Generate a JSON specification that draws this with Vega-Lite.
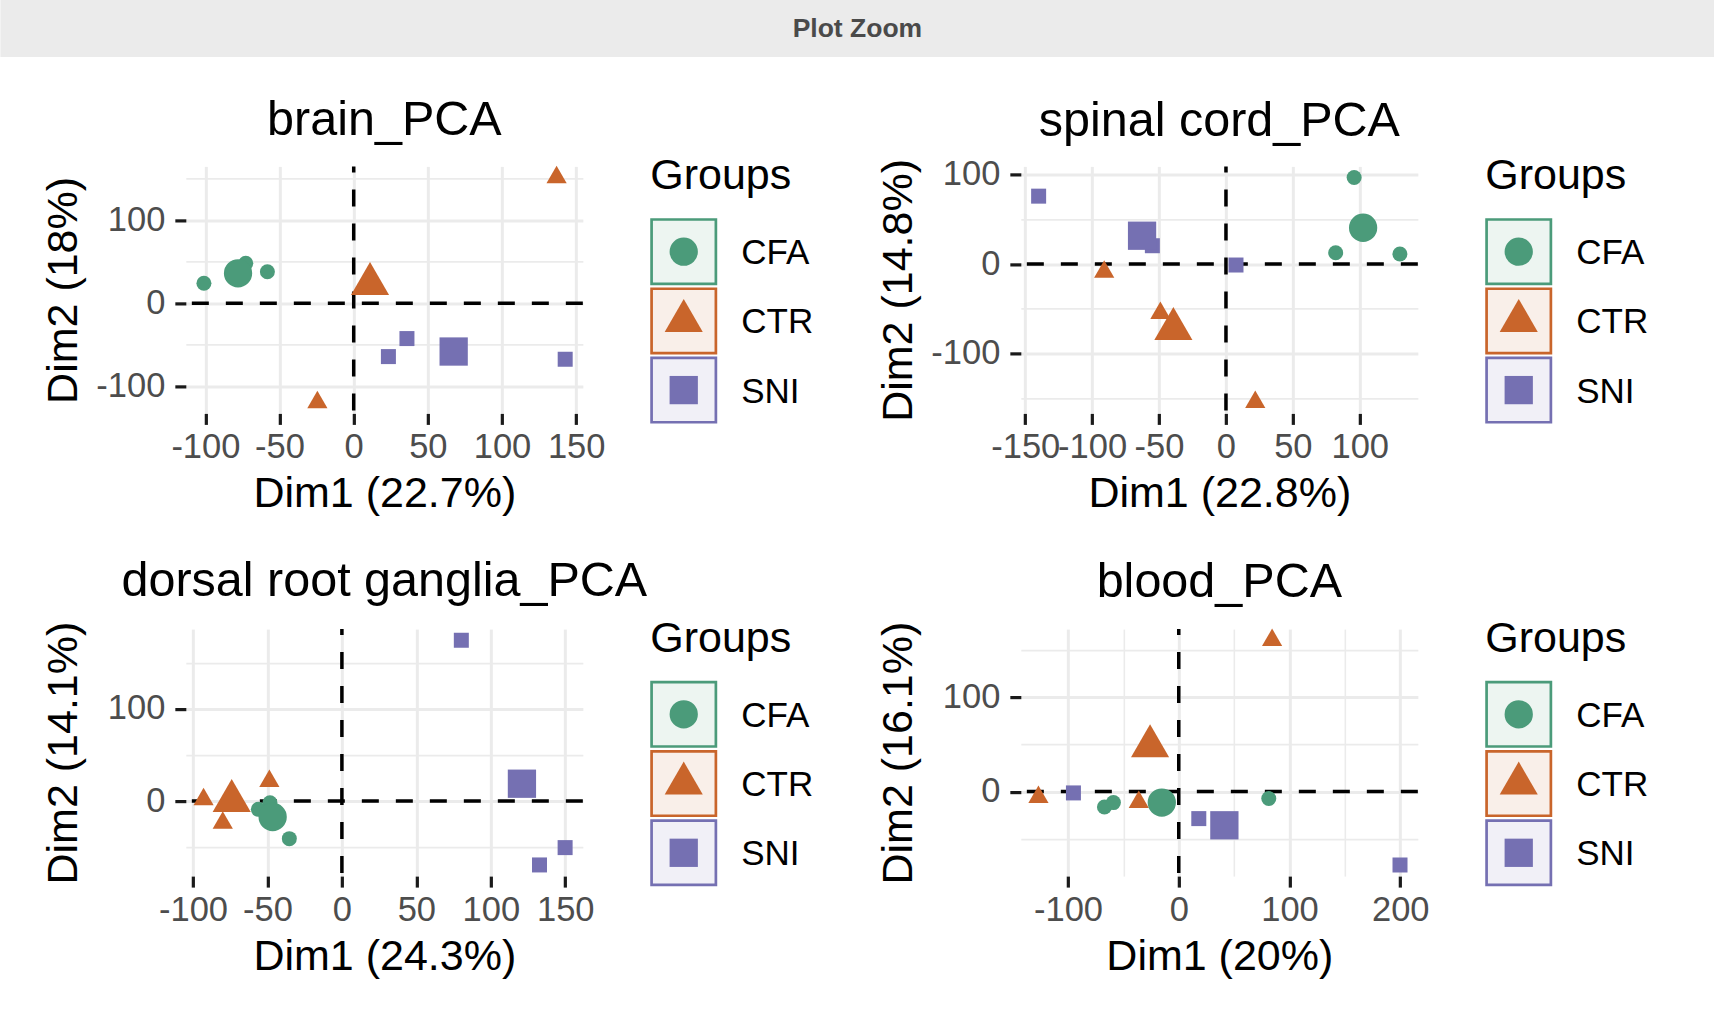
{
  "$schema": "https://vega.github.io/schema/vega-lite/v6.json",
  "background": "white",
  "padding": 0,
  "autosize": {"type": "pad"},
  "config": {
    "font": "Liberation Sans",
    "view": {"stroke": null},
    "title": {"font": "Liberation Sans", "fontSize": 48.5, "fontWeight": "normal", "color": "black", "anchor": "middle", "frame": "group", "baseline": "alphabetic"},
    "axis": {"domain": false, "grid": true, "gridColor": "#EBEBEB", "tickColor": "#1A1A1A", "tickWidth": 3.2, "tickSize": 11, "labelFont": "Liberation Sans", "labelFontSize": 34.5, "labelColor": "#4D4D4D", "labelOverlap": false, "labelFlush": false, "titleFont": "Liberation Sans", "titleFontSize": 43, "titleFontWeight": "normal", "titleColor": "black", "titleBaseline": "alphabetic"},
    "axisX": {"labelPadding": 6.5, "titlePadding": 42.5},
    "axisY": {"labelPadding": 10, "titlePadding": 19, "minExtent": 90}
  },
  "datasets": {
    "window": [{"label": "Plot Zoom"}],
    "refs": [{"ref": 0}],
    "pca": [
      {"panel": "brain", "group": "CFA", "kind": "ind", "dim1": -101, "dim2": 24},
      {"panel": "brain", "group": "CFA", "kind": "ind", "dim1": -72.8, "dim2": 48},
      {"panel": "brain", "group": "CFA", "kind": "ind", "dim1": -58.2, "dim2": 37.8},
      {"panel": "brain", "group": "CTR", "kind": "ind", "dim1": 136.8, "dim2": 151.3},
      {"panel": "brain", "group": "CTR", "kind": "ind", "dim1": -24.5, "dim2": -119.4},
      {"panel": "brain", "group": "CTR", "kind": "ind", "dim1": -79.3, "dim2": 37.1},
      {"panel": "brain", "group": "SNI", "kind": "ind", "dim1": 23.4, "dim2": -64.3},
      {"panel": "brain", "group": "SNI", "kind": "ind", "dim1": 35.9, "dim2": -42.6},
      {"panel": "brain", "group": "SNI", "kind": "ind", "dim1": 142.6, "dim2": -67.5},
      {"panel": "brain", "group": "CFA", "kind": "mean", "dim1": -78, "dim2": 36},
      {"panel": "brain", "group": "CTR", "kind": "mean", "dim1": 11, "dim2": 23},
      {"panel": "brain", "group": "SNI", "kind": "mean", "dim1": 67.4, "dim2": -58.2},
      {"panel": "spinal", "group": "CFA", "kind": "ind", "dim1": 95.8, "dim2": 96.8},
      {"panel": "spinal", "group": "CFA", "kind": "ind", "dim1": 82, "dim2": 12.7},
      {"panel": "spinal", "group": "CFA", "kind": "ind", "dim1": 130, "dim2": 11.2},
      {"panel": "spinal", "group": "CTR", "kind": "ind", "dim1": -91, "dim2": -8.7},
      {"panel": "spinal", "group": "CTR", "kind": "ind", "dim1": -49, "dim2": -55},
      {"panel": "spinal", "group": "CTR", "kind": "ind", "dim1": 21.9, "dim2": -154.7},
      {"panel": "spinal", "group": "SNI", "kind": "ind", "dim1": -140, "dim2": 76},
      {"panel": "spinal", "group": "SNI", "kind": "ind", "dim1": -55, "dim2": 20.5},
      {"panel": "spinal", "group": "SNI", "kind": "ind", "dim1": 7.5, "dim2": -1.1},
      {"panel": "spinal", "group": "CFA", "kind": "mean", "dim1": 102.5, "dim2": 40.6},
      {"panel": "spinal", "group": "CTR", "kind": "mean", "dim1": -39.3, "dim2": -72.7},
      {"panel": "spinal", "group": "SNI", "kind": "mean", "dim1": -62.7, "dim2": 31.7},
      {"panel": "drg", "group": "CFA", "kind": "ind", "dim1": -48.3, "dim2": -1.8},
      {"panel": "drg", "group": "CFA", "kind": "ind", "dim1": -56.1, "dim2": -9},
      {"panel": "drg", "group": "CFA", "kind": "ind", "dim1": -35.3, "dim2": -40.8},
      {"panel": "drg", "group": "CTR", "kind": "ind", "dim1": -92.9, "dim2": 1.9},
      {"panel": "drg", "group": "CTR", "kind": "ind", "dim1": -48.7, "dim2": 21.5},
      {"panel": "drg", "group": "CTR", "kind": "ind", "dim1": -80, "dim2": -23.6},
      {"panel": "drg", "group": "SNI", "kind": "ind", "dim1": 80.2, "dim2": 174.4},
      {"panel": "drg", "group": "SNI", "kind": "ind", "dim1": 149.9, "dim2": -50.5},
      {"panel": "drg", "group": "SNI", "kind": "ind", "dim1": 132.7, "dim2": -69.3},
      {"panel": "drg", "group": "CFA", "kind": "mean", "dim1": -46.5, "dim2": -17.3},
      {"panel": "drg", "group": "CTR", "kind": "mean", "dim1": -74, "dim2": 0.1},
      {"panel": "drg", "group": "SNI", "kind": "mean", "dim1": 120.9, "dim2": 18.8},
      {"panel": "blood", "group": "CFA", "kind": "ind", "dim1": -67.1, "dim2": -16.3},
      {"panel": "blood", "group": "CFA", "kind": "ind", "dim1": -59, "dim2": -11.7},
      {"panel": "blood", "group": "CFA", "kind": "ind", "dim1": 81.3, "dim2": -7.4},
      {"panel": "blood", "group": "CTR", "kind": "ind", "dim1": 84.3, "dim2": 160.9},
      {"panel": "blood", "group": "CTR", "kind": "ind", "dim1": -126.7, "dim2": -5.8},
      {"panel": "blood", "group": "CTR", "kind": "ind", "dim1": -36.1, "dim2": -11.3},
      {"panel": "blood", "group": "SNI", "kind": "ind", "dim1": -95.1, "dim2": -1.4},
      {"panel": "blood", "group": "SNI", "kind": "ind", "dim1": 18.1, "dim2": -28.7},
      {"panel": "blood", "group": "SNI", "kind": "ind", "dim1": 199.8, "dim2": -78},
      {"panel": "blood", "group": "CFA", "kind": "mean", "dim1": -15.3, "dim2": -11.7},
      {"panel": "blood", "group": "CTR", "kind": "mean", "dim1": -25.9, "dim2": 48.2},
      {"panel": "blood", "group": "SNI", "kind": "mean", "dim1": 41.2, "dim2": -35.8}
    ]
  },
  "spacing": 39.4,
  "center": true,
  "vconcat": [
    {
      "width": 1833.2, "height": 57,
      "view": {"fill": "#EBEBEB", "stroke": null},
      "data": {"name": "window"},
      "mark": {"type": "text", "fontSize": 26.5, "fontWeight": "bold", "color": "#4A4A4A", "dx": -59.6},
      "encoding": {"text": {"field": "label", "type": "nominal"}}
    },
    {
      "columns": 2,
      "spacing": {"row": 40.7, "column": 63},
      "concat": [
        {
          "bounds": "flush", "spacing": 67.4,
          "hconcat": [
            {
              "width": 397, "height": 247,
              "title": {"text": "brain_PCA", "offset": 14.7},
              "layer": [
                {"data": {"name": "refs"}, "mark": {"type": "rule", "color": "black", "strokeWidth": 3.5, "strokeDash": [17, 17]}, "encoding": {"y": {"field": "ref", "type": "quantitative"}}},
                {"data": {"name": "refs"}, "mark": {"type": "rule", "color": "black", "strokeWidth": 3.5, "strokeDash": [17, 17], "strokeDashOffset": 11}, "encoding": {"x": {"field": "ref", "type": "quantitative"}}},
                {
                  "data": {"name": "pca"},
                  "transform": [{"filter": "datum.panel === 'brain'"}],
                  "mark": {"type": "point", "filled": true, "opacity": 1},
                  "encoding": {
                    "x": {"field": "dim1", "type": "quantitative", "scale": {"domain": [-113.2, 154.5], "nice": false, "zero": false},
                      "axis": {"title": "Dim1 (22.7%)", "values": [-100, -75, -50, -25, 0, 25, 50, 75, 100, 125, 150], "labelExpr": "datum.value % 50 === 0 ? datum.value + '' : ''", "tickOpacity": {"condition": {"test": "datum.value % 50 === 0", "value": 1}, "value": 0}, "gridWidth": {"condition": {"test": "datum.value % 50 === 0", "value": 3}, "value": 1.6}}},
                    "y": {"field": "dim2", "type": "quantitative", "scale": {"domain": [-132.7, 164.7], "nice": false, "zero": false},
                      "axis": {"title": "Dim2 (18%)", "values": [-100, -50, 0, 50, 100, 150], "labelExpr": "datum.value % 100 === 0 ? datum.value + '' : ''", "tickOpacity": {"condition": {"test": "datum.value % 100 === 0", "value": 1}, "value": 0}, "gridWidth": {"condition": {"test": "datum.value % 100 === 0", "value": 3}, "value": 1.6}}},
                    "shape": {"field": "group", "type": "nominal", "scale": {"domain": ["CFA", "CTR", "SNI"], "range": ["circle", "M0,-1.555L1.347,0.778L-1.347,0.778Z", "square"]}, "legend": null},
                    "color": {"field": "group", "type": "nominal", "scale": {"domain": ["CFA", "CTR", "SNI"], "range": ["#4B9B7A", "#C9652B", "#7570B2"]}, "legend": null},
                    "size": {"field": "kind", "type": "nominal", "scale": {"domain": ["ind", "mean"], "range": [225, 800]}, "legend": null}
                  }
                }
              ]
            },
            {
              "width": 67, "height": 258.3,
              "title": {"text": "Groups", "anchor": "start", "offset": -31.9, "fontSize": 43},
              "data": {"name": "pca"},
              "transform": [{"filter": "datum.panel === 'brain' && datum.kind === 'mean'"}],
              "encoding": {"y": {"field": "group", "type": "nominal", "scale": {"type": "band", "domain": ["CFA", "CTR", "SNI"], "paddingInner": 0, "paddingOuter": 0.366, "align": 1}, "axis": null}},
              "layer": [
                {"mark": {"type": "point", "shape": "square", "size": 4134, "filled": true, "fillOpacity": 0.1, "strokeOpacity": 1, "strokeWidth": 2.7, "opacity": 1},
                 "encoding": {
                   "fill": {"field": "group", "type": "nominal", "scale": {"domain": ["CFA", "CTR", "SNI"], "range": ["#4B9B7A", "#C9652B", "#7570B2"]}, "legend": null},
                   "stroke": {"field": "group", "type": "nominal", "scale": {"domain": ["CFA", "CTR", "SNI"], "range": ["#4B9B7A", "#C9652B", "#7570B2"]}, "legend": null}}},
                {"mark": {"type": "point", "filled": true, "opacity": 1, "size": 800},
                 "encoding": {
                   "shape": {"field": "group", "type": "nominal", "scale": {"domain": ["CFA", "CTR", "SNI"], "range": ["circle", "M0,-1.555L1.347,0.778L-1.347,0.778Z", "square"]}, "legend": null},
                   "color": {"field": "group", "type": "nominal", "scale": {"domain": ["CFA", "CTR", "SNI"], "range": ["#4B9B7A", "#C9652B", "#7570B2"]}, "legend": null}}},
                {"mark": {"type": "text", "align": "left", "baseline": "alphabetic", "dx": 57.5, "dy": 12.5, "fontSize": 35, "color": "black"},
                 "encoding": {"text": {"field": "group", "type": "nominal"}}}
              ]
            }
          ]
        },
        {
          "bounds": "flush", "spacing": 67.4,
          "hconcat": [
            {
              "width": 397, "height": 247,
              "title": {"text": "spinal cord_PCA", "offset": 10.6},
              "layer": [
                {"data": {"name": "refs"}, "mark": {"type": "rule", "color": "black", "strokeWidth": 3.5, "strokeDash": [17, 17]}, "encoding": {"y": {"field": "ref", "type": "quantitative"}}},
                {"data": {"name": "refs"}, "mark": {"type": "rule", "color": "black", "strokeWidth": 3.5, "strokeDash": [17, 17], "strokeDashOffset": 11}, "encoding": {"x": {"field": "ref", "type": "quantitative"}}},
                {
                  "data": {"name": "pca"},
                  "transform": [{"filter": "datum.panel === 'spinal'"}],
                  "mark": {"type": "point", "filled": true, "opacity": 1},
                  "encoding": {
                    "x": {"field": "dim1", "type": "quantitative", "scale": {"domain": [-153.3, 143.4], "nice": false, "zero": false},
                      "axis": {"title": "Dim1 (22.8%)", "values": [-150, -125, -100, -75, -50, -25, 0, 25, 50, 75, 100, 125], "labelExpr": "datum.value % 50 === 0 ? datum.value + '' : ''", "tickOpacity": {"condition": {"test": "datum.value % 50 === 0", "value": 1}, "value": 0}, "gridWidth": {"condition": {"test": "datum.value % 50 === 0", "value": 3}, "value": 1.6}}},
                    "y": {"field": "dim2", "type": "quantitative", "scale": {"domain": [-167.2, 109.3], "nice": false, "zero": false},
                      "axis": {"title": "Dim2 (14.8%)", "values": [-150, -100, -50, 0, 50, 100], "labelExpr": "datum.value % 100 === 0 ? datum.value + '' : ''", "tickOpacity": {"condition": {"test": "datum.value % 100 === 0", "value": 1}, "value": 0}, "gridWidth": {"condition": {"test": "datum.value % 100 === 0", "value": 3}, "value": 1.6}}},
                    "shape": {"field": "group", "type": "nominal", "scale": {"domain": ["CFA", "CTR", "SNI"], "range": ["circle", "M0,-1.555L1.347,0.778L-1.347,0.778Z", "square"]}, "legend": null},
                    "color": {"field": "group", "type": "nominal", "scale": {"domain": ["CFA", "CTR", "SNI"], "range": ["#4B9B7A", "#C9652B", "#7570B2"]}, "legend": null},
                    "size": {"field": "kind", "type": "nominal", "scale": {"domain": ["ind", "mean"], "range": [225, 800]}, "legend": null}
                  }
                }
              ]
            },
            {
              "width": 67, "height": 258.3,
              "title": {"text": "Groups", "anchor": "start", "offset": -31.9, "fontSize": 43},
              "data": {"name": "pca"},
              "transform": [{"filter": "datum.panel === 'spinal' && datum.kind === 'mean'"}],
              "encoding": {"y": {"field": "group", "type": "nominal", "scale": {"type": "band", "domain": ["CFA", "CTR", "SNI"], "paddingInner": 0, "paddingOuter": 0.366, "align": 1}, "axis": null}},
              "layer": [
                {"mark": {"type": "point", "shape": "square", "size": 4134, "filled": true, "fillOpacity": 0.1, "strokeOpacity": 1, "strokeWidth": 2.7, "opacity": 1},
                 "encoding": {
                   "fill": {"field": "group", "type": "nominal", "scale": {"domain": ["CFA", "CTR", "SNI"], "range": ["#4B9B7A", "#C9652B", "#7570B2"]}, "legend": null},
                   "stroke": {"field": "group", "type": "nominal", "scale": {"domain": ["CFA", "CTR", "SNI"], "range": ["#4B9B7A", "#C9652B", "#7570B2"]}, "legend": null}}},
                {"mark": {"type": "point", "filled": true, "opacity": 1, "size": 800},
                 "encoding": {
                   "shape": {"field": "group", "type": "nominal", "scale": {"domain": ["CFA", "CTR", "SNI"], "range": ["circle", "M0,-1.555L1.347,0.778L-1.347,0.778Z", "square"]}, "legend": null},
                   "color": {"field": "group", "type": "nominal", "scale": {"domain": ["CFA", "CTR", "SNI"], "range": ["#4B9B7A", "#C9652B", "#7570B2"]}, "legend": null}}},
                {"mark": {"type": "text", "align": "left", "baseline": "alphabetic", "dx": 57.5, "dy": 12.5, "fontSize": 35, "color": "black"},
                 "encoding": {"text": {"field": "group", "type": "nominal"}}}
              ]
            }
          ]
        },
        {
          "bounds": "flush", "spacing": 67.4,
          "hconcat": [
            {
              "width": 397, "height": 247,
              "title": {"text": "dorsal root ganglia_PCA", "offset": 14.5},
              "layer": [
                {"data": {"name": "refs"}, "mark": {"type": "rule", "color": "black", "strokeWidth": 3.5, "strokeDash": [17, 17]}, "encoding": {"y": {"field": "ref", "type": "quantitative"}}},
                {"data": {"name": "refs"}, "mark": {"type": "rule", "color": "black", "strokeWidth": 3.5, "strokeDash": [17, 17], "strokeDashOffset": 11}, "encoding": {"x": {"field": "ref", "type": "quantitative"}}},
                {
                  "data": {"name": "pca"},
                  "transform": [{"filter": "datum.panel === 'drg'"}],
                  "mark": {"type": "point", "filled": true, "opacity": 1},
                  "encoding": {
                    "x": {"field": "dim1", "type": "quantitative", "scale": {"domain": [-104.8, 161.8], "nice": false, "zero": false},
                      "axis": {"title": "Dim1 (24.3%)", "values": [-100, -75, -50, -25, 0, 25, 50, 75, 100, 125, 150], "labelExpr": "datum.value % 50 === 0 ? datum.value + '' : ''", "tickOpacity": {"condition": {"test": "datum.value % 50 === 0", "value": 1}, "value": 0}, "gridWidth": {"condition": {"test": "datum.value % 50 === 0", "value": 3}, "value": 1.6}}},
                    "y": {"field": "dim2", "type": "quantitative", "scale": {"domain": [-81.4, 186.5], "nice": false, "zero": false},
                      "axis": {"title": "Dim2 (14.1%)", "values": [-50, 0, 50, 100, 150], "labelExpr": "datum.value % 100 === 0 ? datum.value + '' : ''", "tickOpacity": {"condition": {"test": "datum.value % 100 === 0", "value": 1}, "value": 0}, "gridWidth": {"condition": {"test": "datum.value % 100 === 0", "value": 3}, "value": 1.6}}},
                    "shape": {"field": "group", "type": "nominal", "scale": {"domain": ["CFA", "CTR", "SNI"], "range": ["circle", "M0,-1.555L1.347,0.778L-1.347,0.778Z", "square"]}, "legend": null},
                    "color": {"field": "group", "type": "nominal", "scale": {"domain": ["CFA", "CTR", "SNI"], "range": ["#4B9B7A", "#C9652B", "#7570B2"]}, "legend": null},
                    "size": {"field": "kind", "type": "nominal", "scale": {"domain": ["ind", "mean"], "range": [225, 800]}, "legend": null}
                  }
                }
              ]
            },
            {
              "width": 67, "height": 258.3,
              "title": {"text": "Groups", "anchor": "start", "offset": -31.9, "fontSize": 43},
              "data": {"name": "pca"},
              "transform": [{"filter": "datum.panel === 'drg' && datum.kind === 'mean'"}],
              "encoding": {"y": {"field": "group", "type": "nominal", "scale": {"type": "band", "domain": ["CFA", "CTR", "SNI"], "paddingInner": 0, "paddingOuter": 0.366, "align": 1}, "axis": null}},
              "layer": [
                {"mark": {"type": "point", "shape": "square", "size": 4134, "filled": true, "fillOpacity": 0.1, "strokeOpacity": 1, "strokeWidth": 2.7, "opacity": 1},
                 "encoding": {
                   "fill": {"field": "group", "type": "nominal", "scale": {"domain": ["CFA", "CTR", "SNI"], "range": ["#4B9B7A", "#C9652B", "#7570B2"]}, "legend": null},
                   "stroke": {"field": "group", "type": "nominal", "scale": {"domain": ["CFA", "CTR", "SNI"], "range": ["#4B9B7A", "#C9652B", "#7570B2"]}, "legend": null}}},
                {"mark": {"type": "point", "filled": true, "opacity": 1, "size": 800},
                 "encoding": {
                   "shape": {"field": "group", "type": "nominal", "scale": {"domain": ["CFA", "CTR", "SNI"], "range": ["circle", "M0,-1.555L1.347,0.778L-1.347,0.778Z", "square"]}, "legend": null},
                   "color": {"field": "group", "type": "nominal", "scale": {"domain": ["CFA", "CTR", "SNI"], "range": ["#4B9B7A", "#C9652B", "#7570B2"]}, "legend": null}}},
                {"mark": {"type": "text", "align": "left", "baseline": "alphabetic", "dx": 57.5, "dy": 12.5, "fontSize": 35, "color": "black"},
                 "encoding": {"text": {"field": "group", "type": "nominal"}}}
              ]
            }
          ]
        },
        {
          "bounds": "flush", "spacing": 67.4,
          "hconcat": [
            {
              "width": 397, "height": 247,
              "title": {"text": "blood_PCA", "offset": 13.5},
              "layer": [
                {"data": {"name": "refs"}, "mark": {"type": "rule", "color": "black", "strokeWidth": 3.5, "strokeDash": [17, 17]}, "encoding": {"y": {"field": "ref", "type": "quantitative"}}},
                {"data": {"name": "refs"}, "mark": {"type": "rule", "color": "black", "strokeWidth": 3.5, "strokeDash": [17, 17], "strokeDashOffset": 11}, "encoding": {"x": {"field": "ref", "type": "quantitative"}}},
                {
                  "data": {"name": "pca"},
                  "transform": [{"filter": "datum.panel === 'blood'"}],
                  "mark": {"type": "point", "filled": true, "opacity": 1},
                  "encoding": {
                    "x": {"field": "dim1", "type": "quantitative", "scale": {"domain": [-142.6, 215.9], "nice": false, "zero": false},
                      "axis": {"title": "Dim1 (20%)", "values": [-100, -50, 0, 50, 100, 150, 200], "labelExpr": "datum.value % 100 === 0 ? datum.value + '' : ''", "tickOpacity": {"condition": {"test": "datum.value % 100 === 0", "value": 1}, "value": 0}, "gridWidth": {"condition": {"test": "datum.value % 100 === 0", "value": 3}, "value": 1.6}}},
                    "y": {"field": "dim2", "type": "quantitative", "scale": {"domain": [-89.8, 172.7], "nice": false, "zero": false},
                      "axis": {"title": "Dim2 (16.1%)", "values": [-50, 0, 50, 100, 150], "labelExpr": "datum.value % 100 === 0 ? datum.value + '' : ''", "tickOpacity": {"condition": {"test": "datum.value % 100 === 0", "value": 1}, "value": 0}, "gridWidth": {"condition": {"test": "datum.value % 100 === 0", "value": 3}, "value": 1.6}}},
                    "shape": {"field": "group", "type": "nominal", "scale": {"domain": ["CFA", "CTR", "SNI"], "range": ["circle", "M0,-1.555L1.347,0.778L-1.347,0.778Z", "square"]}, "legend": null},
                    "color": {"field": "group", "type": "nominal", "scale": {"domain": ["CFA", "CTR", "SNI"], "range": ["#4B9B7A", "#C9652B", "#7570B2"]}, "legend": null},
                    "size": {"field": "kind", "type": "nominal", "scale": {"domain": ["ind", "mean"], "range": [225, 800]}, "legend": null}
                  }
                }
              ]
            },
            {
              "width": 67, "height": 258.3,
              "title": {"text": "Groups", "anchor": "start", "offset": -31.9, "fontSize": 43},
              "data": {"name": "pca"},
              "transform": [{"filter": "datum.panel === 'blood' && datum.kind === 'mean'"}],
              "encoding": {"y": {"field": "group", "type": "nominal", "scale": {"type": "band", "domain": ["CFA", "CTR", "SNI"], "paddingInner": 0, "paddingOuter": 0.366, "align": 1}, "axis": null}},
              "layer": [
                {"mark": {"type": "point", "shape": "square", "size": 4134, "filled": true, "fillOpacity": 0.1, "strokeOpacity": 1, "strokeWidth": 2.7, "opacity": 1},
                 "encoding": {
                   "fill": {"field": "group", "type": "nominal", "scale": {"domain": ["CFA", "CTR", "SNI"], "range": ["#4B9B7A", "#C9652B", "#7570B2"]}, "legend": null},
                   "stroke": {"field": "group", "type": "nominal", "scale": {"domain": ["CFA", "CTR", "SNI"], "range": ["#4B9B7A", "#C9652B", "#7570B2"]}, "legend": null}}},
                {"mark": {"type": "point", "filled": true, "opacity": 1, "size": 800},
                 "encoding": {
                   "shape": {"field": "group", "type": "nominal", "scale": {"domain": ["CFA", "CTR", "SNI"], "range": ["circle", "M0,-1.555L1.347,0.778L-1.347,0.778Z", "square"]}, "legend": null},
                   "color": {"field": "group", "type": "nominal", "scale": {"domain": ["CFA", "CTR", "SNI"], "range": ["#4B9B7A", "#C9652B", "#7570B2"]}, "legend": null}}},
                {"mark": {"type": "text", "align": "left", "baseline": "alphabetic", "dx": 57.5, "dy": 12.5, "fontSize": 35, "color": "black"},
                 "encoding": {"text": {"field": "group", "type": "nominal"}}}
              ]
            }
          ]
        }
      ]
    }
  ]
}
